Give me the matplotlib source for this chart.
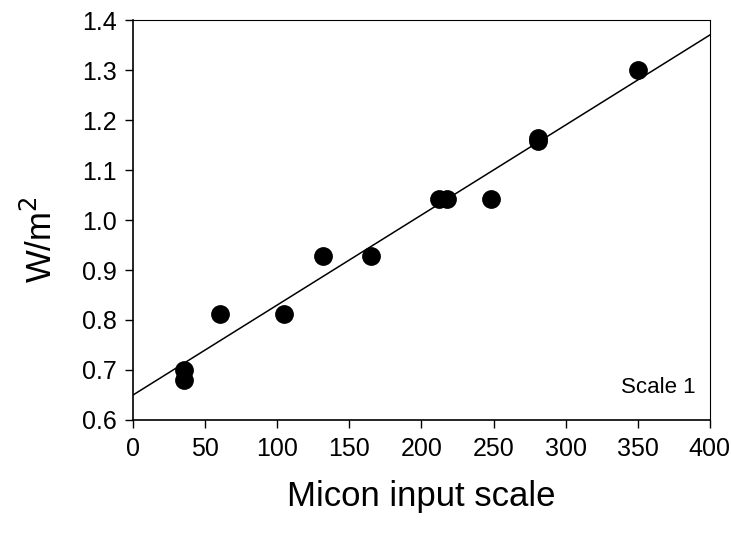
import numpy as np
import matplotlib
matplotlib.use("Agg")
from matplotlib import pyplot as plt

plt.rcParams['font.family'] = ['Liberation Sans', 'DejaVu Sans']

micon_x = [35, 35, 60, 105, 132, 165, 212, 218, 248, 281, 281, 350]
watts_y = [0.700, 0.680, 0.812, 0.812, 0.928, 0.928, 1.042, 1.042, 1.042, 1.158, 1.165, 1.300]

# fitted line (intercept, slope) as drawn
fit_intercept = 0.650
fit_slope = 0.0018

x_ticks = [0, 50, 100, 150, 200, 250, 300, 350, 400]
y_ticks = [0.6, 0.7, 0.8, 0.9, 1.0, 1.1, 1.2, 1.3, 1.4]

fig = plt.figure(figsize=(7.31, 5.34), dpi=100, facecolor='white')
ax = fig.add_axes([0.182, 0.2135, 0.789, 0.749])

line_x = np.array([0, 400])
ax.plot(line_x, fit_intercept + fit_slope * line_x, color='black', lw=1.1)
ax.plot(micon_x, watts_y, 'o', color='black', markersize=12.5)

ax.set_xlim(0, 400)
ax.set_ylim(0.6, 1.4)
ax.set_xticks(x_ticks)
ax.set_yticks(y_ticks)
ax.set_yticklabels(['%.1f' % v for v in y_ticks])
ax.tick_params(direction='out', length=6, width=1, labelsize=18, pad=6)
for side in ['top', 'right']:
    ax.spines[side].set_linewidth(0.8)
for side in ['left', 'bottom']:
    ax.spines[side].set_linewidth(1.2)

ax.set_xlabel('Micon input scale', fontsize=25)
ax.xaxis.set_label_coords(0.5, -0.15)
ax.set_ylabel('W/m$^2$', fontsize=25)
ax.yaxis.set_label_coords(-0.128, 0.45)
ax.text(390, 0.664, 'Scale 1', fontsize=16, ha='right', va='center')

fig.savefig('out.png', dpi=100)
